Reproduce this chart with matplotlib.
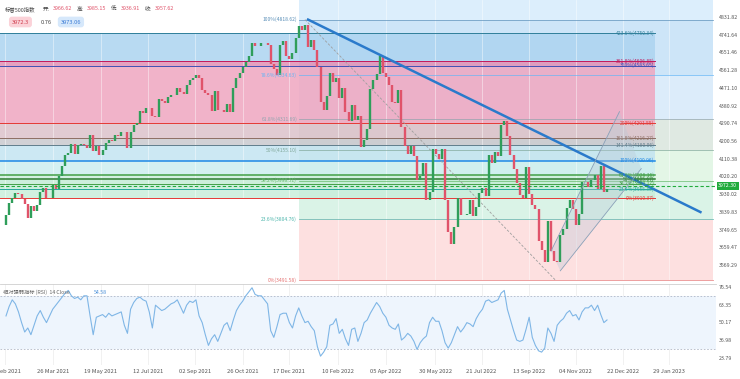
import matplotlib.pyplot as plt
import numpy as np

plt.rcParams['font.family'] = ['Noto Sans CJK SC', 'DejaVu Sans']

# S&P 500, two closes per week (Tue / Fri), Feb 2021 .. Dec 2022
closes = [
    3826, 3887, 3911, 3934, 3932, 3907, 3881, 3811, 3870, 3842, 3875, 3943,
    3962, 3913, 3910, 3975, 3958, 4020, 4074, 4129, 4142, 4185, 4134, 4180,
    4187, 4181, 4165, 4233, 4152, 4174, 4128, 4156, 4188, 4204, 4202, 4230,
    4227, 4247, 4246, 4166, 4246, 4281, 4291, 4352, 4343, 4370, 4369, 4327,
    4323, 4412, 4402, 4395, 4423, 4437, 4436, 4468, 4449, 4442, 4486, 4509,
    4523, 4535, 4520, 4458, 4443, 4433, 4354, 4455, 4359, 4357, 4346, 4391,
    4350, 4471, 4520, 4545, 4575, 4605, 4631, 4697, 4685, 4683, 4701, 4698,
    4691, 4595, 4567, 4538, 4687, 4712, 4634, 4620, 4649, 4726, 4786, 4766,
    4793, 4677, 4713, 4663, 4577, 4398, 4356, 4432, 4546, 4501, 4521, 4419,
    4471, 4349, 4305, 4385, 4306, 4329, 4171, 4204, 4262, 4463, 4512, 4543,
    4632, 4546, 4525, 4488, 4397, 4393, 4462, 4272, 4175, 4132, 4175, 4123,
    4001, 4024, 4088, 3901, 3941, 4158, 4132, 4109, 4161, 3901, 3735, 3675,
    3765, 3912, 3822, 3825, 3831, 3899, 3819, 3863, 3937, 3962, 3921, 4130,
    4091, 4145, 4122, 4280, 4305, 4228, 4128, 4058, 3986, 3924, 3909, 4067,
    3932, 3873, 3856, 3693, 3647, 3586, 3791, 3640, 3589, 3583, 3720, 3753,
    3859, 3901, 3856, 3771, 3828, 3993, 3992, 3965, 4004, 4026, 3958, 4072,
    3941, 3958,
]
first_open = 3774

rsi = [
    55, 62, 67, 64, 58, 50, 43, 46, 41, 48, 55, 59, 54, 50, 55, 60, 63, 66,
    69, 72, 74, 70, 68, 69, 67, 70, 70, 55, 41, 54, 55, 56, 54, 57, 55, 56,
    57, 58, 48, 42, 60, 65, 68, 69, 67, 66, 58, 46, 63, 61, 59, 60, 62, 64,
    65, 67, 62, 57, 63, 66, 65, 67, 55, 50, 41, 33, 38, 41, 36, 42, 48, 50,
    44, 52, 59, 63, 66, 70, 73, 76, 71, 70, 70, 67, 64, 44, 39, 47, 56, 57,
    57, 50, 46, 55, 61, 55, 50, 51, 47, 44, 32, 25, 28, 32, 48, 49, 53, 42,
    45, 38, 33, 45, 46, 36, 42, 50, 52, 57, 61, 65, 62, 57, 54, 48, 46, 45,
    49, 37, 39, 42, 40, 36, 30, 35, 38, 40, 50, 54, 51, 51, 44, 35, 31, 35,
    41, 47, 43, 46, 50, 49, 47, 53, 57, 60, 66, 67, 65, 66, 67, 72, 74, 60,
    52, 44, 37, 36, 37, 45, 54, 39, 33, 29, 28, 31, 46, 42, 36, 48, 51, 53,
    57, 59, 55, 56, 52, 58, 61, 61, 63, 59, 63, 56, 50, 52,
]

tick_pos = [-0.4, 15, 30.5, 45.7, 60.7, 76, 91, 106.7, 122, 137.8, 152.7,
            168, 183, 198, 213]
tick_labels = ['01 Feb 2021', '26 Mar 2021', '19 May 2021', '12 Jul 2021',
               '02 Sep 2021', '26 Oct 2021', '17 Dec 2021', '10 Feb 2022',
               '05 Apr 2022', '30 May 2022', '21 Jul 2022', '13 Sep 2022',
               '04 Nov 2022', '22 Dec 2022', '29 Jan 2023']

price_ticks = [4831.82, 4741.64, 4651.46, 4561.28, 4471.10, 4380.92, 4290.74,
               4200.56, 4110.38, 4020.20, 3930.02, 3839.83, 3749.65, 3659.47,
               3569.29]
rsi_ticks = [76.54, 63.35, 50.17, 36.98, 23.79]

# fib retracement: Jan 2022 high -> Oct 2022 low
fib_hi = (96, 4818.62)
fib_lo = (176.5, 3491.58)
fib_ratios = [0, 0.236, 0.382, 0.5, 0.618, 0.786, 1]

# fib extension drawn on the late 2022 rally
ext_levels = [3910.37, 3955.35, 3983.17, 4005.67, 4028.16, 4100.96, 4180.06,
              4216.27, 4291.55, 4583.65, 4606.85, 4750.34]
ext_names = ['0%', '23.6%', '38.2%', '50%', '61.8%', '100%', '141.4%',
             '161.8%', '200%', '350%', '361.8%', '423.6%']

trend = [(97, 4818.62), (223, 3839)]
chan_upper = [(175, 3640), (197, 4350)]
chan_lower = [(178, 3540), (204, 4060)]

last_price = 3972.30

# ---------------------------------------------------------------------------
fig = plt.figure(figsize=(7.4, 3.79), dpi=100)
ax = fig.add_axes([0, 96 / 379, 716 / 740, 283 / 379])
rax = fig.add_axes([0, 14 / 379, 716 / 740, 81 / 379], sharex=ax)

xl, xr = -1.93, 228.0
ax.set_xlim(xl, xr)
ax.set_ylim(3477.9, 4918.4)
rax.set_ylim(18.4, 78.8)

# tool A bands (fib retracement)
a_left, a_right = 94, 227
fib_prices = [fib_lo[1] + r * (fib_hi[1] - fib_lo[1]) for r in fib_ratios]
a_cols = ['#fde0e0', '#daf3e7', '#e3f6e6', '#dfe9e2', '#dcecfa', '#cde5f8']
ax.axhspan(fib_prices[-1], 4918.4, xmin=(a_left - xl) / (xr - xl),
           xmax=(a_right - xl) / (xr - xl), color='#dceefc', lw=0, zorder=0)
for lo, hi, c in zip(fib_prices[:-1], fib_prices[1:], a_cols):
    ax.fill_between([a_left, a_right], lo, hi, color=c, lw=0, zorder=0)
a_line_cols = ['#e57373', '#4db6ac', '#66bb6a', '#81a89a', '#90a4ae', '#64b5f6', '#5a8fb8']
for p, r, c in zip(fib_prices, fib_ratios, a_line_cols):
    ax.plot([a_left, a_right], [p, p], color=c, lw=0.6, alpha=0.8, zorder=1)
    ax.text(a_left - 0.5, p, f'{r * 100:g}%({p:.2f})', color=c, fontsize=3.6,
            ha='right', va='center', zorder=5)
ax.plot([fib_hi[0], fib_lo[0]], [fib_hi[1], fib_lo[1]], color='#9e9e9e',
        lw=0.6, ls=(0, (3, 2)), zorder=2)

# tool B bands (fib extension)
b_left, b_right = xl, 208.5
b_cols = ['#c9eedb', '#c6edd8', '#c3ecd5', '#cdeede', '#cdeef0', '#c3e4f1',
          '#c9c9ce', '#dcc2ca', '#efa6c0', '#e191b5', '#acd4f0']
for lo, hi, c in zip(ext_levels[:-1], ext_levels[1:], b_cols):
    ax.fill_between([b_left, b_right], lo, hi, color=c, lw=0, alpha=0.85, zorder=0.5)
b_line_cols = ['#e53935', '#26a69a', '#43a047', '#2e7d32', '#43a047', '#1e88e5',
               '#607d8b', '#8d6e63', '#e53935', '#3f51b5', '#c2185b', '#2f7f9a']
for p, n, c in zip(ext_levels, ext_names, b_line_cols):
    lw = 1.1 if n in ('100%', '61.8%', '50%') else 0.7
    ax.plot([b_left, b_right], [p, p], color=c, lw=lw, zorder=1)
    ax.text(b_right - 0.3, p, f'{n}({p:.2f})', color=c, fontsize=3.6,
            ha='right', va='center', zorder=5)

# grid
for t in tick_pos:
    ax.axvline(t, color='#ffffff', lw=0.5, alpha=0.6, zorder=0.8)
    rax.axvline(t, color='#ececec', lw=0.5, zorder=0)

# candles
opens = [first_open] + closes[:-1]
idx = np.arange(len(closes))
o = np.array(opens)
c = np.array(closes)
up = c >= o
ax.vlines(idx[up], o[up], c[up], color='#2f9e5a', lw=1.7, zorder=3)
ax.vlines(idx[~up], c[~up], o[~up], color='#e0536a', lw=1.7, zorder=3)

# trend line and channel
ax.plot(*zip(*trend), color='#2a7acb', lw=1.8, zorder=4)
ax.plot(*zip(*chan_upper), color='#8aa0b8', lw=0.6, zorder=4)
ax.plot(*zip(*chan_lower), color='#8aa0b8', lw=0.6, zorder=4)
ax.fill([chan_upper[0][0], chan_upper[1][0], chan_lower[1][0], chan_lower[0][0]],
        [chan_upper[0][1], chan_upper[1][1], chan_lower[1][1], chan_lower[0][1]],
        color='#b9c8d8', alpha=0.35, lw=0, zorder=2)

# last price
ax.axhline(last_price, color='#22ab3d', lw=0.8, ls=(0, (3, 2)), zorder=4)

ax.yaxis.tick_right()
ax.set_yticks(price_ticks)
ax.set_yticklabels([f'{v:.2f}' for v in price_ticks])
ax.tick_params(axis='y', length=0, labelsize=3.8, labelcolor='#555555', pad=2)
ax.tick_params(axis='x', length=0, labelbottom=False)
for s in ax.spines.values():
    s.set_visible(False)
ax.text(1.003, last_price, f'{last_price:.2f}', transform=ax.get_yaxis_transform(),
        fontsize=3.8, color='white', ha='left', va='center', zorder=10,
        bbox=dict(boxstyle='square,pad=0.3', fc='#22ab3d', ec='none'), clip_on=False)

# RSI pane
rax.axhspan(30, 70, color='#eef5fd', lw=0, zorder=0)
rax.axhline(70, color='#b0b8c8', lw=0.6, ls=(0, (2, 2)))
rax.axhline(30, color='#b0b8c8', lw=0.6, ls=(0, (2, 2)))
rax.plot(idx, rsi, color='#7fb6e6', lw=0.8, zorder=3)
rax.yaxis.tick_right()
rax.set_yticks(rsi_ticks)
rax.set_yticklabels([f'{v:.2f}' for v in rsi_ticks])
rax.tick_params(axis='y', length=0, labelsize=3.8, labelcolor='#555555', pad=2)
rax.set_xticks(tick_pos)
rax.set_xticklabels(tick_labels)
rax.tick_params(axis='x', length=0, labelsize=4.2, labelcolor='#555555', pad=3)
for s in rax.spines.values():
    s.set_visible(False)
rax.spines['top'].set_visible(True)
rax.spines['top'].set_color('#cfcfcf')
rax.spines['top'].set_linewidth(0.6)

rax.text(0.004, 0.93, '相对强弱指标 (RSI)  14 Close', transform=rax.transAxes,
         fontsize=3.8, color='#666666', va='top')
rax.text(0.131, 0.93, '54.58', transform=rax.transAxes, fontsize=3.8,
         color='#4a90d9', va='top')

# header
hy = 1 - 9 / 379
fig.text(0.006, hy, '标普500指数', fontsize=3.9, color='#444444', va='center')
hx = 0.058
for lab, val in [('开:', '3966.62'), ('高:', '3985.15'), ('低:', '3936.91'), ('收:', '3957.62')]:
    fig.text(hx, hy, lab, fontsize=3.9, color='#444444', va='center')
    fig.text(hx + 0.0135, hy, val, fontsize=3.9, color='#e0536a', va='center')
    hx += 0.046
fig.text(0.016, 1 - 22 / 379, '3972.3', fontsize=4.1, color='#d04050', va='center',
         bbox=dict(boxstyle='round,pad=0.5', fc='#fbd2d8', ec='none'))
fig.text(0.055, 1 - 22 / 379, '0.76', fontsize=4.1, color='#444444', va='center')
fig.text(0.082, 1 - 22 / 379, '3973.06', fontsize=4.1, color='#3a7bd5', va='center',
         bbox=dict(boxstyle='round,pad=0.5', fc='#d6e8fb', ec='none'))

fig.savefig('out.png', dpi=100)
